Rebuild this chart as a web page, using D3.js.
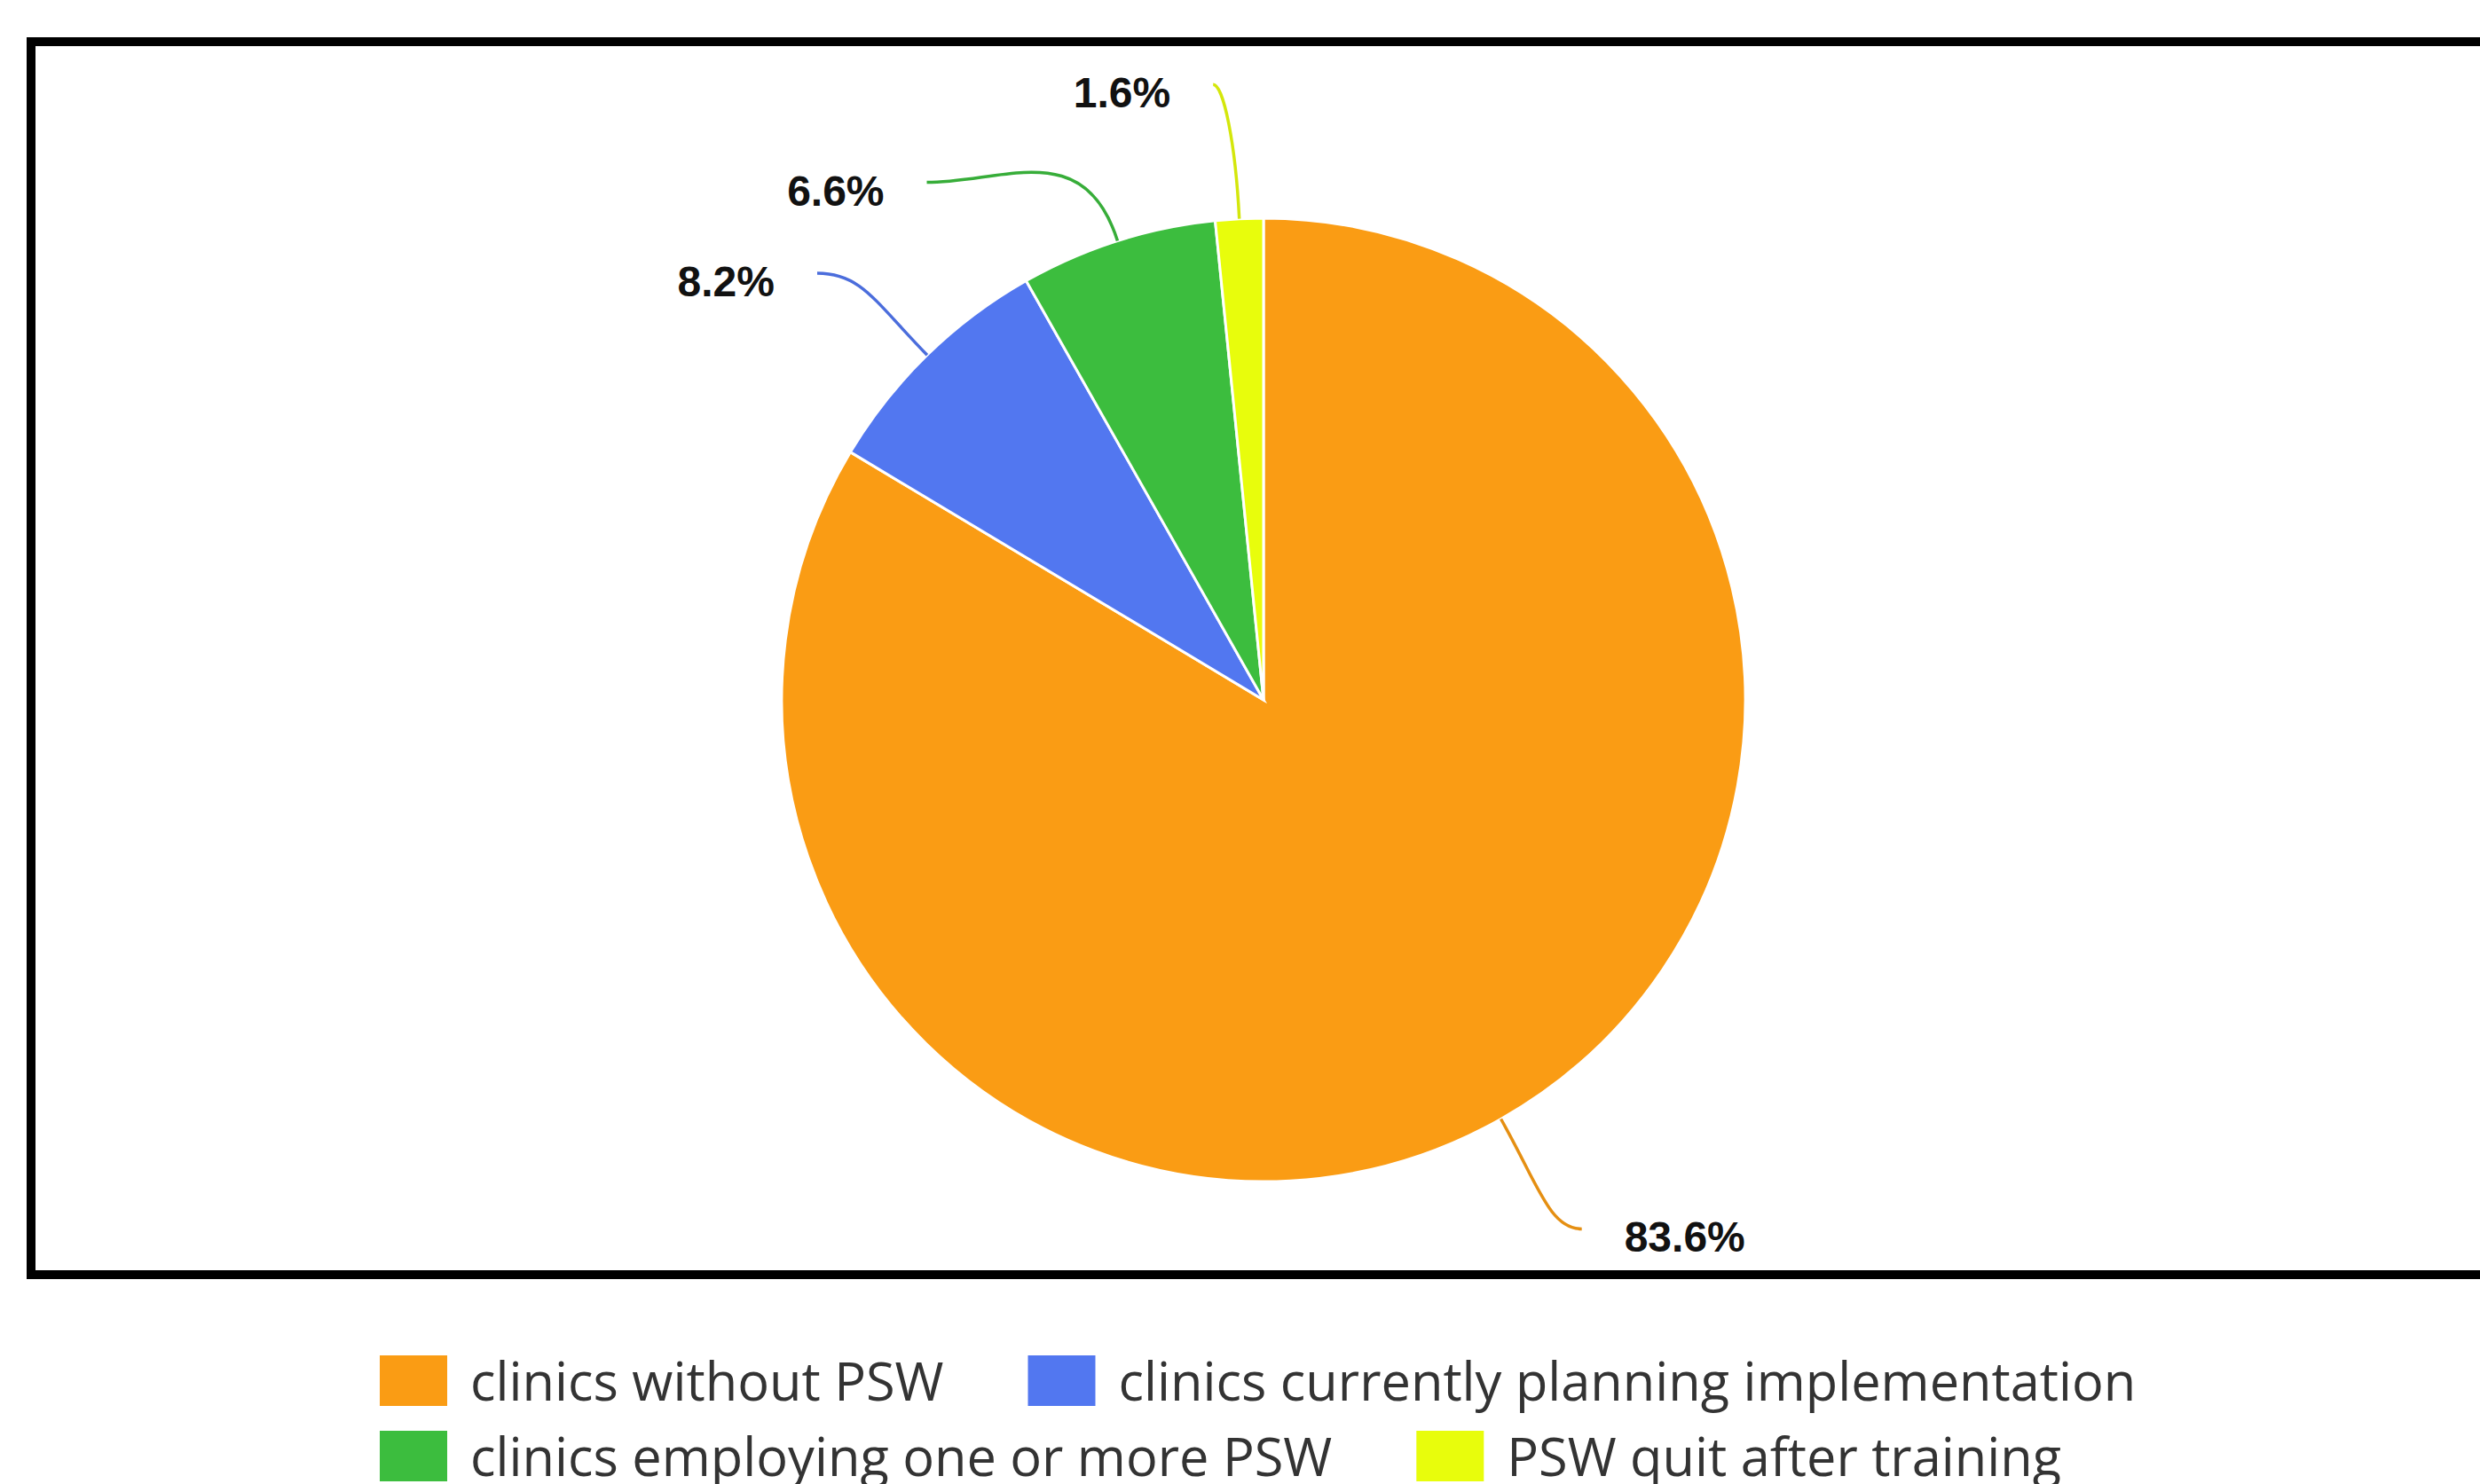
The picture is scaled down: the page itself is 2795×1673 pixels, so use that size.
<!DOCTYPE html>
<html>
<head>
<meta charset="utf-8">
<script src="https://cdn.jsdelivr.net/npm/d3@7"></script>
<style>
  body { margin: 0; background: #fff; overflow: hidden; }
</style>
</head>
<body>
<div class="graph"></div>
<script>
let categories = [
  "clinics without PSW",
  "clinics currently planning implementation",
  "clinics employing one or more PSW",
  "PSW quit after training"
];
let values = [83.6, 8.2, 6.6, 1.6];
let labels = ["83.6%", "8.2%", "6.6%", "1.6%"];
let colors = ["#fa9c14", "#5277f0", "#3cbd3e", "#e8fd0c"];
// legend rows (indexes into categories)
let legendRows = [[0, 1], [2, 3]];
// angle nudges in degrees so the labels don't collide
let labelNudge = [-1.5, -2, -15.4, -1.8];

let w = 2795;
let h = 1673;
let cx = 1424;
let cy = 789;
let r = 543;
let labelR = 696;

let svgvar = d3
  .select(".graph")
  .append("svg")
  .attr("width", w)
  .attr("height", h);

svgvar
  .append("rect")
  .attr("width", w)
  .attr("height", h)
  .style("fill", "#fff");

// frame around the plot, right side runs off the picture
svgvar
  .append("rect")
  .attr("x", 35)
  .attr("y", 47)
  .attr("width", w)
  .attr("height", 1390)
  .style("fill", "none")
  .style("stroke", "#000")
  .style("stroke-width", 10);

let pie = d3.pie().sort(null).value(function (d) {
  return d;
});
let arcs = pie(values);

let arc = d3.arc().innerRadius(0).outerRadius(r);

let g = svgvar.append("g").attr("transform", "translate(" + cx + "," + cy + ")");

g.selectAll("path.slice")
  .data(arcs)
  .enter()
  .append("path")
  .attr("class", "slice")
  .attr("d", arc)
  .style("fill", function (d, i) {
    return colors[i];
  })
  .style("stroke", "#fff")
  .style("stroke-width", 3);

function polar(rad, ang) {
  return [rad * Math.sin(ang), -rad * Math.cos(ang)];
}

arcs.forEach(function (d, i) {
  let mid = (d.startAngle + d.endAngle) / 2;
  let p0 = polar(r, mid);
  let p3 = polar(labelR, mid + (labelNudge[i] * Math.PI) / 180);
  let side = p3[0] >= 0 ? 1 : -1;
  let dist = Math.hypot(p3[0] - p0[0], p3[1] - p0[1]);
  let dir = [Math.sin(mid), -Math.cos(mid)];
  let k = dist * 0.55;
  let p1 = [p0[0] + dir[0] * k, p0[1] + dir[1] * k];
  let p2 = [p3[0] - side * Math.abs(p3[0] - p0[0]) * 0.4, p3[1]];

  let path = d3.path();
  path.moveTo(p0[0], p0[1]);
  path.bezierCurveTo(p1[0], p1[1], p2[0], p2[1], p3[0], p3[1]);

  g.append("path")
    .attr("d", path.toString())
    .style("fill", "none")
    .style("stroke", d3.color(colors[i]).darker(0.25))
    .style("stroke-width", 3.5);

  g.append("text")
    .attr("x", p3[0] + side * 48)
    .attr("y", p3[1] + 26)
    .attr("text-anchor", side > 0 ? "start" : "end")
    .style("font-family", "'Liberation Sans', Arial, sans-serif")
    .style("font-weight", "bold")
    .style("font-size", "48px")
    .style("fill", "#111")
    .text(labels[i]);
});

// legend
let legend = svgvar.append("g");
let legendX = 428;
let keyW = 76;
let keyH = 57;
legendRows.forEach(function (row, ri) {
  let x = legendX;
  let base = 1579 + ri * 85;
  row.forEach(function (ci) {
    legend
      .append("rect")
      .attr("x", x)
      .attr("y", base - 51)
      .attr("width", keyW)
      .attr("height", keyH)
      .style("fill", colors[ci]);
    let t = legend
      .append("text")
      .attr("x", x + keyW + 26)
      .attr("y", base)
      .style("font-family", "'Open Sans', sans-serif")
      .style("font-size", "59.5px")
      .style("fill", "#333")
      .text(categories[ci]);
    x = x + keyW + 26 + t.node().getComputedTextLength() + 95;
  });
});
</script>
</body>
</html>
